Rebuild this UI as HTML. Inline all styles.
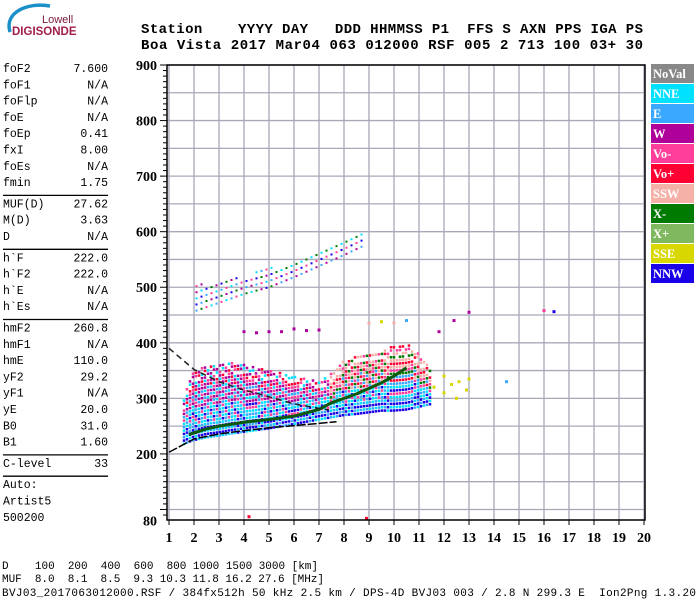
<!DOCTYPE html>
<html><head><meta charset="utf-8"><style>
body{margin:0;background:#fff;width:700px;height:600px;overflow:hidden}
svg{display:block}
.m{font-family:"Liberation Mono",monospace;font-size:11.5px;fill:#000}
.f{font-family:"Liberation Mono",monospace;font-size:11px;fill:#000}
.h{font-family:"Liberation Mono",monospace;font-size:14px;font-weight:bold;fill:#000}
.ax{font-family:"Liberation Serif",serif;font-size:14px;font-weight:bold;fill:#000}
.lg{font-family:"Liberation Serif",serif;font-size:12.5px;font-weight:bold;fill:#fff}
</style></head><body>
<svg id="s" width="700" height="600">
<g>
<path d="M10 32 C 4 12, 28 2, 50 6" stroke="#1a8fc8" stroke-width="3.5" fill="none"/>
<text x="42" y="23" font-family="Liberation Sans,sans-serif" font-size="11" fill="#7a1a3a">Lowell</text>
<text x="12" y="35" font-family="Liberation Sans,sans-serif" font-size="11.5" font-weight="bold" fill="#a0204a">DIGISONDE</text>
</g>
<g>
<text class="h" x="141" y="33" xml:space="preserve" textLength="502" lengthAdjust="spacing">Station    YYYY DAY   DDD HHMMSS P1  FFS S AXN PPS IGA PS</text>
<text class="h" x="141" y="49" xml:space="preserve" textLength="502" lengthAdjust="spacing">Boa Vista 2017 Mar04 063 012000 RSF 005 2 713 100 03+ 30</text>
</g>
<g id="left"></g>
<g id="grid"></g>
<g id="marks"></g>
<g id="axes"></g>
<g id="legend"></g>
<g>
<text class="f" x="2" y="569" xml:space="preserve" textLength="316">D    100  200  400  600  800 1000 1500 3000 [km]</text>
<text class="f" x="2" y="582" xml:space="preserve" textLength="322">MUF  8.0  8.1  8.5  9.3 10.3 11.8 16.2 27.6 [MHz]</text>
<text class="f" x="2" y="596" xml:space="preserve" textLength="694">BVJ03_2017063012000.RSF / 384fx512h 50 kHz 2.5 km / DPS-4D BVJ03 003 / 2.8 N 299.3 E  Ion2Png 1.3.20</text>
</g>
</svg>
<script>
const NS="http://www.w3.org/2000/svg";
const xTicks=[1,2,3,4,5,6,7,8,9,10,11,12,13,14,15,16,17,18,19,20];
const yTicks=[80,200,300,400,500,600,700,800,900];
const bandFreq=[1.6,1.8,2.0,2.5,3,3.5,4,4.5,5,5.5,6,6.5,7,7.5,8,8.5,9,9.5,10,10.5,11,11.5];
const bandLow=[218,222,225,230,233,237,240,243,246,250,254,258,262,266,270,272,275,278,278,280,285,290];
const bandHigh=[300,330,350,360,365,365,360,355,350,345,340,335,330,345,370,375,380,385,395,400,380,350];
const hopFreq=[2.1,3,4,5,6,7,8,8.8];
const hopLow=[458,472,488,500,518,538,558,575];
const hopHigh=[505,510,520,535,545,560,590,605];
const oTraceF=[1.8,2.5,3,4,5,6,7,7.5,8,8.5,9,9.5,10,10.5];
const oTraceH=[235,245,250,257,262,268,280,292,300,308,318,328,340,355];
const dashLowF=[1,2,3,4,5,6,7,7.7];
const dashLowH=[203,227,236,242,247,251,255,258];
const dashUpF=[1,2,3,4,5,6,7,7.4];
const dashUpH=[390,352,330,315,303,290,282,279];
const outF=[4.0,4.5,5.0,5.5,6.0,6.5,7.0,9.0,9.5,10.0,10.5,11.6,12.0,12.3,12.6,12.9,12.0,12.5,13.0,11.8,12.4,13.0,16.0,16.4,14.5,4.2,8.9];
const outH=[420,418,420,420,425,422,423,435,438,436,440,320,310,325,330,315,340,300,335,420,440,455,458,456,330,87,84];
const outC=[3,3,3,3,3,3,3,6,9,6,2,9,9,9,9,9,9,9,9,3,3,3,4,10,2,5,5];
const legNames=["NoVal","NNE","E","W","Vo-","Vo+","SSW","X-","X+","SSE","NNW"];
const legColors=["#888888","#00e0ff","#3aa8ff","#b0009a","#ff3d9a","#ff0033","#f5b0a8","#007a00","#80b860","#d8d800","#1a00e8"];
const params=[["foF2","7.600"],["foF1","N/A"],["foFlp","N/A"],["foE","N/A"],["foEp","0.41"],["fxI","8.00"],["foEs","N/A"],["fmin","1.75"],null,["MUF(D)","27.62"],["M(D)","3.63"],["D","N/A"],null,["h`F","222.0"],["h`F2","222.0"],["h`E","N/A"],["h`Es","N/A"],null,["hmF2","260.8"],["hmF1","N/A"],["hmE","110.0"],["yF2","29.2"],["yF1","N/A"],["yE","20.0"],["B0","31.0"],["B1","1.60"],null,["C-level","33"],null,["Auto:",""],["Artist5",""],["500200",""]];

const X=f=>169+(f-1)*25;
const Y=h=>65+(900-h)*0.5556;
function el(t,a,p){const e=document.createElementNS(NS,t);for(const k in a)e.setAttribute(k,a[k]);p.appendChild(e);return e;}
function interp(fs,hs,f){for(let i=0;i<fs.length-1;i++){if(f>=fs[i]&&f<=fs[i+1]){const t=(f-fs[i])/(fs[i+1]-fs[i]);return hs[i]+t*(hs[i+1]-hs[i]);}}return null;}

const L=document.getElementById('left');
let yy=72;
params.forEach(p=>{
 if(p===null){const ln=el('line',{x1:3,x2:108,y1:yy-7,y2:yy-7,stroke:'#000','stroke-width':1.3},L);
  yy+=5;return;}
 const a=el('text',{x:3,y:yy,class:'m'},L);a.textContent=p[0];
 
 if(p[1]){const b=el('text',{x:108,y:yy,class:'m','text-anchor':'end'},L);b.textContent=p[1];
  }
 yy+=16.3;
});

const G=document.getElementById('grid');
for(let f=1;f<=20;f++){const l=el('line',{x1:X(f),x2:X(f),y1:65,y2:520,stroke:'#a8a8b8','stroke-width':1.3},G);
 }
for(let h=100;h<=900;h+=50){const l=el('line',{x1:167,x2:645,y1:Y(h),y2:Y(h),stroke:'#a8a8b8','stroke-width':1.3},G);
 }

const M=document.getElementById('marks');
function dot(f,h,c,s){const r=el('rect',{x:X(f)-s/2,y:Y(h)-s/2,width:s,height:s,fill:c},M);
 }
let k=0;
for(let f=bandFreq[0];f<=bandFreq[bandFreq.length-1];f+=0.12){
 const lo=interp(bandFreq,bandLow,f),hi=interp(bandFreq,bandHigh,f);if(lo===null)continue;
 for(let h=lo;h<=hi;h+=6){
  const t=(h-lo)/(hi-lo);k++;let c;
  if(t<0.2)c=[10,1,10,2][k%4];
  else if(t<0.45)c=[1,2,1,4,10][k%5];
  else if(t<0.7)c=(f>7.4?[4,6,5,2,7][k%5]:[3,1,3,4,2][k%5]);
  else c=(f>7.4?[6,4,5,6,7][k%5]:[3,4,5,3,1][k%5]);
  if(t>0.8&&k%3===0)continue;
  dot(f,h,legColors[c],2.5);
 }
}
for(let f=hopFreq[0];f<=hopFreq[hopFreq.length-1];f+=0.2){
 const lo=interp(hopFreq,hopLow,f),hi=interp(hopFreq,hopHigh,f);if(lo===null)continue;
 for(let h=lo;h<=hi;h+=11){k++;dot(f,h,legColors[[10,1,3,4,7,2][k%6]],2);}
}
let pts=oTraceF.map((f,i)=>X(f)+','+Y(oTraceH[i])).join(' ');
let pl=el('polyline',{points:pts,fill:'none',stroke:'#0a5a0a','stroke-width':3},M);

pts=dashLowF.map((f,i)=>X(f)+','+Y(dashLowH[i])).join(' ');
pl=el('polyline',{points:pts,fill:'none',stroke:'#000','stroke-width':1.5,'stroke-dasharray':'9 2'},M);

pts=dashUpF.map((f,i)=>X(f)+','+Y(dashUpH[i])).join(' ');
pl=el('polyline',{points:pts,fill:'none',stroke:'#222','stroke-width':1.5,'stroke-dasharray':'6 4'},M);

outF.forEach((f,i)=>dot(f,outH[i],legColors[outC[i]],3));

const A=document.getElementById('axes');
const fr=el('rect',{x:167,y:65,width:478,height:455,fill:'none',stroke:'#000','stroke-width':1.5},A);

for(let h=90;h<=900;h+=10){const l=el('line',{x1:h%100===0?160:163,x2:167,y1:Y(h),y2:Y(h),stroke:'#000','stroke-width':1},A);
 }
yTicks.forEach(h=>{const t=el('text',{x:157,y:Y(h)+5,class:'ax','text-anchor':'end'},A);t.textContent=h;
 });
xTicks.forEach(f=>{const l=el('line',{x1:X(f),x2:X(f),y1:520,y2:525,stroke:'#000'},A);
 
 const t=el('text',{x:X(f),y:542,class:'ax','text-anchor':'middle'},A);t.textContent=f;
 });

const LG=document.getElementById('legend');
legNames.forEach((n,i)=>{const y=64+i*20;
 const r=el('rect',{x:651,y:y,width:43,height:19,fill:legColors[i]},LG);
 
 const t=el('text',{x:653,y:y+14,class:'lg'},LG);t.textContent=n;
 });
</script>
</body></html>
